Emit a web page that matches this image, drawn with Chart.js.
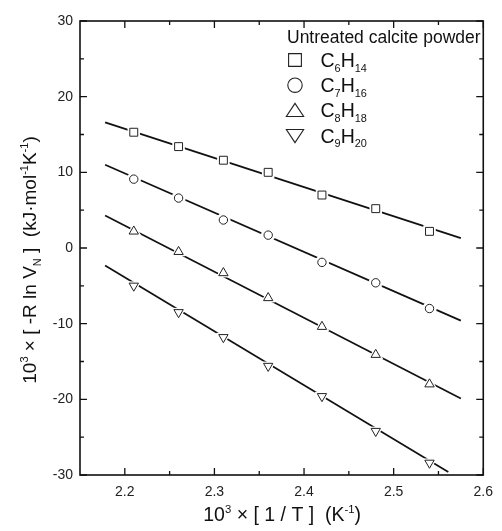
<!DOCTYPE html>
<html>
<head>
<meta charset="utf-8">
<script src="https://cdn.jsdelivr.net/npm/chart.js@4/dist/chart.umd.min.js"></script>
<style>
  html, body { margin: 0; padding: 0; background: #fff; }
  #wrap { width: 502px; height: 531px; }
</style>
</head>
<body>
<div id="wrap"><canvas id="lnChart" width="502" height="531"></canvas></div>
<script>
// values
const xVals = [2.21, 2.26, 2.31, 2.36, 2.42, 2.48, 2.54];
const c6h14 = [15.3, 13.4, 11.6, 10.0, 7.0, 5.2, 2.2];
const c7h16 = [9.1, 6.6, 3.7, 1.7, -1.9, -4.6, -8.0];
const c8h18 = [2.2, -0.5, -3.3, -6.6, -10.4, -14.1, -18.0];
const c9h20 = [-5.0, -8.5, -11.8, -15.6, -19.6, -24.2, -28.4];

// fitted lines (end points as drawn)
const fitX = [[2.178, 2.575], [2.178, 2.575], [2.178, 2.575], [2.178, 2.561]];
const fitY = [[16.6, 1.3], [11.0, -9.6], [4.3, -19.9], [-2.3, -29.6]];

const xTicks = [2.2, 2.3, 2.4, 2.5, 2.6];
const xMinor = [2.25, 2.35, 2.45, 2.55];
const yTicks = [-30, -20, -10, 0, 10, 20, 30];
const yMinor = [-25, -15, -5, 5, 15, 25];

const seriesNames = [['C', '6', 'H', '14'], ['C', '7', 'H', '16'], ['C', '8', 'H', '18'], ['C', '9', 'H', '20']];
const legendTitle = 'Untreated calcite powder';
const FONT = '"Liberation Sans", Arial, sans-serif';

const series = [c6h14, c7h16, c8h18, c9h20];
const styles = [
  { pointStyle: 'rect', r: 5.6, rot: 0 },
  { pointStyle: 'circle', r: 4.2, rot: 0 },
  { pointStyle: 'triangle', r: 5.4, rot: 0 },
  { pointStyle: 'triangle', r: 5.4, rot: 180 }
];

const datasets = [];
series.forEach((vals, i) => {
  datasets.push({
    data: fitX[i].map((x, k) => ({ x: x, y: fitY[i][k] })),
    showLine: true, borderColor: '#111', borderWidth: 1.7,
    pointRadius: 0, order: 3
  });
  // white halo so the line breaks around each marker
  datasets.push({
    data: xVals.map((x, k) => ({ x: x, y: vals[k] })),
    pointStyle: styles[i].pointStyle, pointRotation: styles[i].rot,
    pointRadius: styles[i].r + 2.5, backgroundColor: '#fff', borderColor: '#fff',
    pointBorderWidth: 1, order: 2
  });
  datasets.push({
    data: xVals.map((x, k) => ({ x: x, y: vals[k] })),
    pointStyle: styles[i].pointStyle, pointRotation: styles[i].rot,
    pointRadius: styles[i].r, backgroundColor: '#fff', borderColor: '#222',
    pointBorderWidth: 1, order: 1
  });
});

// text with sup/sub parts: [text, 'n'|'sup'|'sub']
function drawRich(ctx, parts, x, y, size, align, opt) {
  opt = opt || {};
  const small = size * (opt.scale || 0.62);
  const supDy = opt.sup != null ? opt.sup : -size * 0.42;
  const subDy = opt.sub != null ? opt.sub : size * 0.3;
  let total = 0;
  parts.forEach(p => {
    ctx.font = (p[1] === 'n' ? size : small) + 'px ' + FONT;
    total += ctx.measureText(p[0]).width;
  });
  let cx = align === 'center' ? x - total / 2 : x;
  ctx.textBaseline = 'alphabetic';
  ctx.textAlign = 'left';
  parts.forEach(p => {
    let dy = 0;
    if (p[1] === 'sup') dy = supDy;
    if (p[1] === 'sub') dy = subDy;
    ctx.font = (p[1] === 'n' ? size : small) + 'px ' + FONT;
    ctx.fillText(p[0], cx, y + dy);
    cx += ctx.measureText(p[0]).width;
  });
}

function shape(ctx, kind, x, y, s) {
  ctx.beginPath();
  if (kind === 0) {
    ctx.rect(x - s, y - s, 2 * s, 2 * s);
  } else if (kind === 1) {
    ctx.arc(x, y, s + 0.8, 0, Math.PI * 2);
  } else if (kind === 2) {
    ctx.moveTo(x, y - s * 1.1);
    ctx.lineTo(x + s * 1.35, y + s * 0.95);
    ctx.lineTo(x - s * 1.35, y + s * 0.95);
    ctx.closePath();
  } else {
    ctx.moveTo(x, y + s * 1.1);
    ctx.lineTo(x + s * 1.35, y - s * 0.95);
    ctx.lineTo(x - s * 1.35, y - s * 0.95);
    ctx.closePath();
  }
  ctx.stroke();
}

const framePlugin = {
  id: 'frame',
  afterDraw(chart) {
    const ctx = chart.ctx;
    const a = chart.chartArea;
    const xs = chart.scales.x, ys = chart.scales.y;
    ctx.save();
    ctx.strokeStyle = '#111';
    ctx.lineWidth = 1.6;
    ctx.strokeRect(a.left, a.top, a.right - a.left, a.bottom - a.top);

    ctx.lineWidth = 1.3;
    ctx.beginPath();
    xTicks.concat(xMinor).forEach(v => {
      const len = xTicks.includes(v) ? 7 : 4;
      const px = xs.getPixelForValue(v);
      ctx.moveTo(px, a.bottom); ctx.lineTo(px, a.bottom - len);
      ctx.moveTo(px, a.top); ctx.lineTo(px, a.top + len);
    });
    yTicks.concat(yMinor).forEach(v => {
      const len = yTicks.includes(v) ? 7 : 4;
      const py = ys.getPixelForValue(v);
      ctx.moveTo(a.left, py); ctx.lineTo(a.left + len, py);
      ctx.moveTo(a.right, py); ctx.lineTo(a.right - len, py);
    });
    ctx.stroke();

    // legend
    ctx.fillStyle = '#111';
    ctx.font = '17.5px ' + FONT;
    ctx.textAlign = 'left';
    ctx.textBaseline = 'alphabetic';
    ctx.fillText(legendTitle, 287, 43);
    ctx.lineWidth = 1.1;
    ctx.strokeStyle = '#222';
    seriesNames.forEach((n, i) => {
      const cy = 60 + i * 25.2;
      shape(ctx, i, 295, cy, 6.4);
      drawRich(ctx, [[n[0], 'n'], [n[1], 'sub'], [n[2], 'n'], [n[3], 'sub']], 320.5, cy + 7, 19.5, 'left',
        { scale: 0.56, sub: 4.5 });
    });

    // axis titles
    drawRich(ctx, [['10', 'n'], ['3', 'sup'], [' \u00d7 [ 1 / T ]  (K', 'n'], ['-1', 'sup'], [')', 'n']],
      (a.left + a.right) / 2 + 0.5, 521, 19.5, 'center', { scale: 0.58, sup: -8 });
    ctx.save();
    ctx.translate(36, 260);
    ctx.rotate(-Math.PI / 2);
    drawRich(ctx, [['10', 'n'], ['3', 'sup'], [' \u00d7 [ -R ln V', 'n'], ['N', 'sub'], [' ]  (kJ\u00b7mol', 'n'],
      ['-1', 'sup'], ['K', 'n'], ['-1', 'sup'], [')', 'n']], 0, 0, 19, 'center', { scale: 0.58, sup: -8, sub: 5 });
    ctx.restore();
    ctx.restore();
  }
};

new Chart(document.getElementById('lnChart'), {
  type: 'scatter',
  data: { datasets: datasets },
  options: {
    responsive: false,
    animation: false,
    layout: { padding: { top: 21, right: 13, left: 0, bottom: 0 } },
    plugins: { legend: { display: false }, tooltip: { enabled: false } },
    scales: {
      x: {
        type: 'linear', min: 2.15, max: 2.6,
        grid: { display: false, drawTicks: false },
        border: { display: false },
        afterBuildTicks: s => { s.ticks = xTicks.map(v => ({ value: v })); },
        afterFit: s => { s.height = 56; },
        ticks: {
          padding: 9, color: '#222', font: { family: FONT, size: 14 },
          maxRotation: 0, callback: v => Number(v).toFixed(1)
        }
      },
      y: {
        type: 'linear', min: -30, max: 30,
        grid: { display: false, drawTicks: false },
        border: { display: false },
        afterBuildTicks: s => { s.ticks = yTicks.map(v => ({ value: v })); },
        afterFit: s => { s.width = 80; },
        ticks: { padding: 7, color: '#222', font: { family: FONT, size: 14 } }
      }
    }
  },
  plugins: [framePlugin]
});
</script>
</body>
</html>
